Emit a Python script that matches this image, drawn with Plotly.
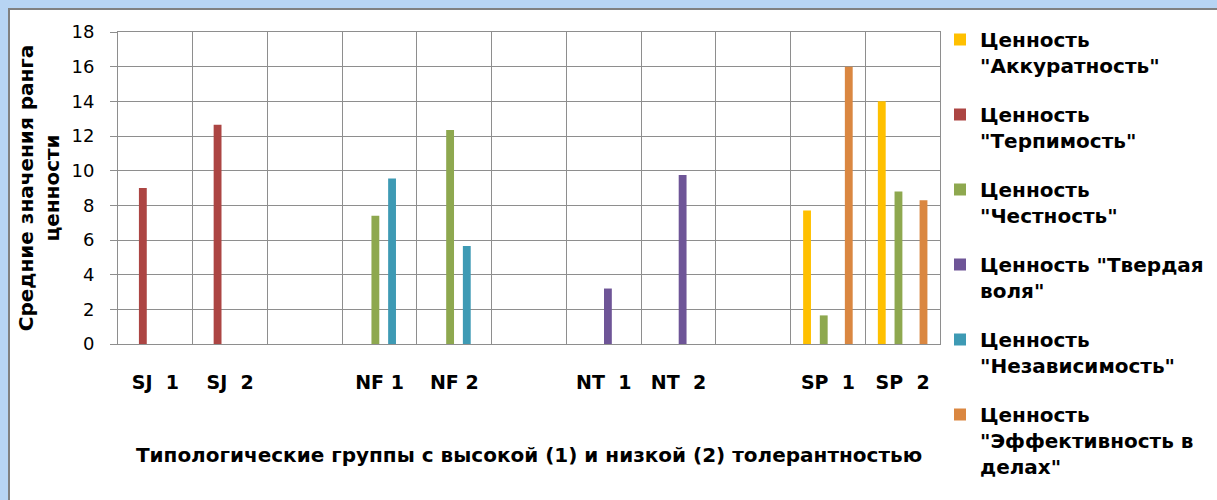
import plotly.graph_objects as go

# Typological groups; empty strings are spacer slots between the pairs
categories = ["SJ\u00a0\u00a01", "SJ\u00a0\u00a02", "",
              "NF 1", "NF 2", "",
              "NT\u00a0\u00a01", "NT\u00a0\u00a02", "",
              "SP\u00a0\u00a01", "SP\u00a0\u00a02"]

series_names = [
    "Ценность<br>\"Аккуратность\"",
    "Ценность<br>\"Терпимость\"",
    "Ценность<br>\"Честность\"",
    "Ценность \"Твердая<br>воля\"",
    "Ценность<br>\"Независимость\"",
    "Ценность<br>\"Эффективность в<br>делах\"",
]

akkuratnost = [None, None, None, None, None, None, None, None, None, 7.7, 14.0]
terpimost = [9.0, 12.65, None, None, None, None, None, None, None, None, None]
chestnost = [None, None, None, 7.4, 12.35, None, None, None, None, 1.65, 8.8]
tverdaya_volya = [None, None, None, None, None, None, 3.2, 9.75, None, None, None]
nezavisimost = [None, None, None, 9.55, 5.65, None, None, None, None, None, None]
effektivnost = [None, None, None, None, None, None, None, None, None, 16.0, 8.3]

series_values = [akkuratnost, terpimost, chestnost, tverdaya_volya, nezavisimost, effektivnost]
colors = ["#FFC000", "#AC4543", "#8EA84F", "#6E5597", "#3E9AB4", "#DA8741"]

FONT = "DejaVu Sans"
GRID = "#8E8E8E"

# slot index of every group along the x axis
slots = list(range(len(categories)))
label_slots = [i for i, c in enumerate(categories) if c]
label_text = [categories[i] for i in label_slots]

fig = go.Figure()
for i, (name, vals, col) in enumerate(zip(series_names, series_values, colors)):
    fig.add_trace(go.Bar(
        x=slots, y=vals, name=name, marker_color=col,
        marker_line_width=0, legendgroup=f"g{i}",
    ))

W, H = 1217, 500
ML, MR, MT, MB = 118, 277, 32, 156
pw, ph = W - ML - MR, H - MT - MB

fig.update_layout(
    width=W, height=H,
    margin=dict(l=ML, r=MR, t=MT, b=MB, pad=0, autoexpand=False),
    paper_bgcolor="#B7D4F3",
    plot_bgcolor="white",
    barmode="group",
    bargap=0.33,
    bargroupgap=0.06,
    font=dict(family=FONT, color="black"),
    showlegend=True,
    legend=dict(
        x=1.0, xanchor="left",
        y=(H - MB - 20) / ph, yanchor="top",
        maxheight=480,
        font=dict(family=FONT, size=20, color="black", weight="bold"),
        valign="top", tracegroupgap=20, traceorder="grouped",
        bgcolor="rgba(0,0,0,0)",
    ),
    xaxis=dict(
        range=[-0.5, len(categories) - 0.5],
        tickmode="array", tickvals=label_slots, ticktext=label_text,
        showgrid=False, zeroline=False,
        minor=dict(tickmode="linear", tick0=-0.5, dtick=1, ticks="",
                   showgrid=True, gridcolor=GRID, gridwidth=1),
        showline=True, linecolor=GRID, linewidth=1, mirror=True,
        ticks="", ticklabelstandoff=21,
        tickfont=dict(family=FONT, size=19, color="black", weight="bold"),
        title=dict(
            text="Типологические группы с высокой (1) и низкой (2) толерантностью",
            font=dict(family=FONT, size=20, color="black", weight="bold"),
            standoff=56,
        ),
    ),
    yaxis=dict(
        range=[0, 18], dtick=2,
        showgrid=True, gridcolor=GRID, gridwidth=1,
        showline=True, linecolor=GRID, linewidth=1, mirror=True,
        ticks="outside", ticklen=7, tickcolor=GRID,
        ticklabelstandoff=12,
        tickfont=dict(family=FONT, size=18, color="black"),
        zeroline=False,
        title=dict(
            text="Средние значения ранга<br>ценности",
            font=dict(family=FONT, size=20, color="black", weight="bold"),
            standoff=6,
        ),
    ),
    shapes=[dict(
        type="rect", xref="paper", yref="paper", layer="below",
        x0=(9 - ML) / pw, x1=(W + 20 - ML) / pw,
        y0=-(H + 20 - (H - MB)) / ph, y1=(H - MB - 9) / ph,
        fillcolor="white", line=dict(color="#808080", width=2),
    )],
)

fig.write_html("out.html")
